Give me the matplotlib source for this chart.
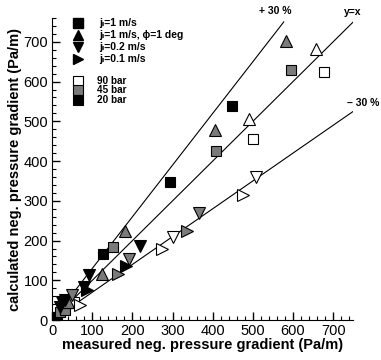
import numpy as np
import matplotlib
matplotlib.use("Agg")
import matplotlib.pyplot as plt
from matplotlib.ticker import MultipleLocator

plt.rcParams["font.family"] = ["Liberation Sans", "DejaVu Sans"]

# ---------------- data (measured, calculated) in Pa/m ----------------
# squares: j_l = 1 m/s
sq_20_x = [3, 12, 127, 294, 449]
sq_20_y = [5, 8, 166, 347, 538]
sq_45_x = [20, 32, 42, 152, 409, 596]
sq_45_y = [20, 25, 43, 183, 425, 628]
sq_90_x = [55, 501, 678]
sq_90_y = [45, 455, 623]

# up triangles: j_l = 1 m/s, phi = 1 deg
up_45_x = [40, 125, 182, 406, 583]
up_45_y = [45, 116, 224, 477, 701]
up_90_x = [491, 658]
up_90_y = [507, 681]

# down triangles: j_l = 0.2 m/s
dn_20_x = [20, 25, 32, 80, 92, 219]
dn_20_y = [33, 45, 50, 83, 113, 186]
dn_45_x = [50, 192, 367]
dn_45_y = [63, 153, 269]
dn_90_x = [302, 509]
dn_90_y = [209, 359]

# right triangles: j_l = 0.1 m/s
rt_20_x = [87, 185]
rt_20_y = [75, 136]
rt_45_x = [165, 337]
rt_45_y = [117, 224]
rt_90_x = [70, 274, 476]
rt_90_y = [38, 178, 314]

ref_factors = [1.3, 1.0, 0.7]
ref_ends = [577, 750, 750]

marker_labels = ["j\u2097=1 m/s",
                 "j\u2097=1 m/s, \u03d5=1 deg",
                 "j\u2097=0.2 m/s",
                 "j\u2097=0.1 m/s"]
pressure_labels = ["90 bar", "45 bar", "20 bar"]

C20, C45, C90 = "black", "#7a7a7a", "white"

fig = plt.figure(figsize=(3.81, 3.60), dpi=100)
ax = fig.add_axes([0.137, 0.111, 0.79, 0.839])

for f, xe in zip(ref_factors, ref_ends):
    xs = np.array([0, xe])
    ax.plot(xs, f * xs, color="black", lw=0.8, zorder=1)

series = [
    (sq_20_x, sq_20_y, "s", C20, 7), (sq_45_x, sq_45_y, "s", C45, 7),
    (sq_90_x, sq_90_y, "s", C90, 7),
    (up_45_x, up_45_y, "^", C45, 8.5), (up_90_x, up_90_y, "^", C90, 8.5),
    (dn_20_x, dn_20_y, "v", C20, 8.5), (dn_45_x, dn_45_y, "v", C45, 8.5),
    (dn_90_x, dn_90_y, "v", C90, 8.5),
    (rt_20_x, rt_20_y, ">", C20, 8.5), (rt_45_x, rt_45_y, ">", C45, 8.5),
    (rt_90_x, rt_90_y, ">", C90, 8.5),
]
for xs, ys, m, c, ms in series:
    ax.plot(xs, ys, ls="none", marker=m, ms=ms, mfc=c, mec="black",
            mew=0.8, zorder=3)

ax.spines["top"].set_visible(False)
ax.spines["right"].set_visible(False)
ax.xaxis.set_major_locator(MultipleLocator(100))
ax.yaxis.set_major_locator(MultipleLocator(100))
ax.xaxis.set_minor_locator(MultipleLocator(20))
ax.yaxis.set_minor_locator(MultipleLocator(20))
ax.tick_params(which="major", direction="in", length=6, width=1,
               labelsize=10.5, pad=3)
ax.tick_params(which="minor", direction="in", length=3, width=0.8)
ax.set_xlim(0, 750)
ax.set_ylim(0, 760)

ax.set_xlabel("measured neg. pressure gradient (Pa/m)", fontsize=10.5,
              fontweight="bold", labelpad=0)
ax.set_ylabel("calculated neg. pressure gradient (Pa/m)", fontsize=10.5,
              fontweight="bold", labelpad=1)

ax.text(556, 778, "+ 30 %", fontsize=7.5, fontweight="bold",
        ha="center", va="center", clip_on=False)
ax.text(750, 774, "y=x", fontsize=7.5, fontweight="bold",
        ha="center", va="center", clip_on=False)
ax.text(775, 546, "– 30 %", fontsize=7.5, fontweight="bold",
        ha="center", va="center", clip_on=False)

# legend: marker shapes
tr = ax.transAxes
for m, lab, yy in zip(["s", "^", "v", ">"], marker_labels,
                      [0.983, 0.944, 0.904, 0.864]):
    ax.plot([0.086], [yy], ls="none", marker=m, ms=7.5 if m != "s" else 6.5,
            mfc="black", mec="black", transform=tr, clip_on=False)
    ax.text(0.155, yy, lab, fontsize=7.5, fontweight="bold", ha="left",
            va="center", transform=tr)

# legend: pressures
for c, lab, yy in zip([C90, C45, C20], pressure_labels,
                      [0.792, 0.760, 0.728]):
    ax.plot([0.086], [yy], ls="none", marker="s", ms=6.8, mfc=c,
            mec="black", mew=0.8, transform=tr, clip_on=False)
    ax.text(0.150, yy, lab, fontsize=7.2, fontweight="bold", ha="left",
            va="center", transform=tr)

fig.savefig("out.png", dpi=100)
